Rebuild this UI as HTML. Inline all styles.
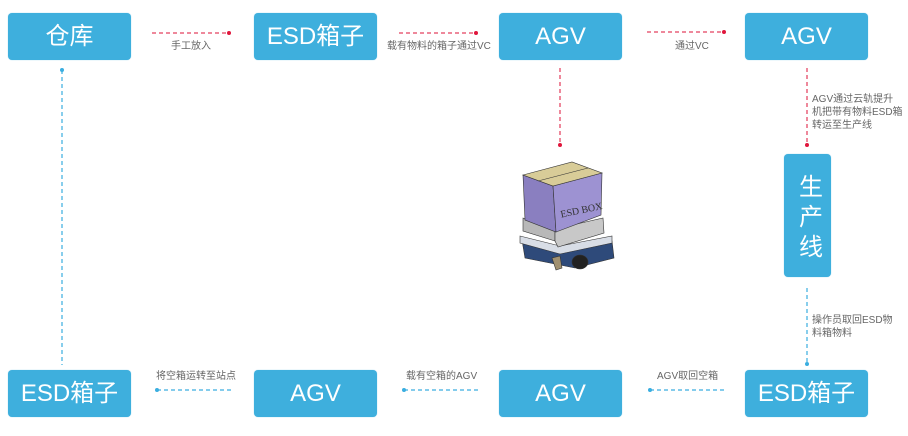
<!DOCTYPE html>
<html><head><meta charset="utf-8"><style>
html,body{margin:0;padding:0;background:#fff;}
body{width:908px;height:436px;position:relative;overflow:hidden;font-family:"Liberation Sans","Noto Sans CJK SC",sans-serif;}
.b{position:absolute;background:#3eafdd;border-radius:4px;color:#fff;font-size:24px;line-height:24px;display:flex;align-items:center;justify-content:center;box-shadow:0 0 1px #8fd0ec;}
.b span{display:block;line-height:24px;height:24px;}
.t{position:absolute;font-size:10px;color:#666;white-space:nowrap;line-height:13px;}
</style></head><body>
<div class="b" style="left:8px;top:13px;width:123px;height:47px;"><span>仓库</span></div>
<div class="b" style="left:254px;top:13px;width:123px;height:47px;"><span>ESD箱子</span></div>
<div class="b" style="left:499px;top:13px;width:123px;height:47px;"><span>AGV</span></div>
<div class="b" style="left:745px;top:13px;width:123px;height:47px;"><span>AGV</span></div>
<div class="b" style="left:8px;top:370px;width:123px;height:47px;"><span>ESD箱子</span></div>
<div class="b" style="left:254px;top:370px;width:123px;height:47px;"><span>AGV</span></div>
<div class="b" style="left:499px;top:370px;width:123px;height:47px;"><span>AGV</span></div>
<div class="b" style="left:745px;top:370px;width:123px;height:47px;"><span>ESD箱子</span></div>
<div class="b" style="left:784px;top:154px;width:47px;height:123px;writing-mode:vertical-rl;font-size:24px;letter-spacing:6px;padding-top:6px;box-sizing:border-box;">生产线</div>

<svg width="908" height="436" style="position:absolute;left:0;top:0">
<g stroke="#e9607a" stroke-width="1.5" stroke-dasharray="4,3" fill="none">
<line x1="152" y1="33" x2="229" y2="33"/>
<line x1="399" y1="33" x2="476" y2="33"/>
<line x1="647" y1="32" x2="724" y2="32"/>
<line x1="560" y1="68" x2="560" y2="145"/>
<line x1="807" y1="68" x2="807" y2="145"/>
</g>
<g fill="#e0163c">
<circle cx="229" cy="33" r="2"/><circle cx="476" cy="33" r="2"/><circle cx="724" cy="32" r="2"/>
<circle cx="560" cy="145" r="2"/><circle cx="807" cy="145" r="2"/>
</g>
<g stroke="#3aaee0" stroke-width="1.2" stroke-dasharray="4,3" fill="none">
<line x1="62" y1="70" x2="62" y2="365"/>
<line x1="807" y1="288" x2="807" y2="364"/>
<line x1="157" y1="390" x2="234" y2="390"/>
<line x1="404" y1="390" x2="481" y2="390"/>
<line x1="650" y1="390" x2="727" y2="390"/>
</g>
<g fill="#3aaee0">
<circle cx="62" cy="70" r="2"/><circle cx="807" cy="364" r="2"/>
<circle cx="157" cy="390" r="2"/><circle cx="404" cy="390" r="2"/><circle cx="650" cy="390" r="2"/>
</g>
<!-- AGV illustration -->
<g stroke="#333" stroke-width="0.6">
<path d="M522 240 L560 250 L612 241 L614 258 L575 268 L525 258 Z" fill="#2e4a7a"/>
<ellipse cx="580" cy="262" rx="8" ry="7" fill="#222"/>
<path d="M552 258 L556 270 L562 268 L560 256 Z" fill="#a09070"/>
<path d="M520 236 L560 246 L612 236 L612 243 L560 254 L520 243 Z" fill="#d8dde6"/>
<path d="M523 218 L555 229 L555 241 L523 231 Z" fill="#b8b8b8"/>
<path d="M555 229 L603 218 L604 233 L558 247 L555 241 Z" fill="#c8c8c8"/>
<path d="M523 175 L553 186 L556 232 L525 220 Z" fill="#8a7fc0"/>
<path d="M553 186 L602 173 L601 215 L556 232 Z" fill="#9d92d2"/>
<path d="M523 175 L572 162 L602 173 L553 186 Z" fill="#d8cc98"/>
<line x1="538" y1="181" x2="588" y2="168"/>
</g>
<text x="560" y="214" font-family="Liberation Serif,serif" font-size="10" fill="#333" transform="rotate(-12 578 210)">ESD BOX</text>
</svg>

<div class="t" style="left:171px;top:40px;">手工放入</div>
<div class="t" style="left:387px;top:40px;">载有物料的箱子通过VC</div>
<div class="t" style="left:675px;top:40px;">通过VC</div>
<div class="t" style="left:812px;top:93px;">AGV通过云轨提升<br>机把带有物料ESD箱<br>转运至生产线</div>
<div class="t" style="left:812px;top:314px;">操作员取回ESD物<br>料箱物料</div>
<div class="t" style="left:156px;top:370px;">将空箱运转至站点</div>
<div class="t" style="left:406px;top:370px;">载有空箱的AGV</div>
<div class="t" style="left:657px;top:370px;">AGV取回空箱</div>
</body></html>
